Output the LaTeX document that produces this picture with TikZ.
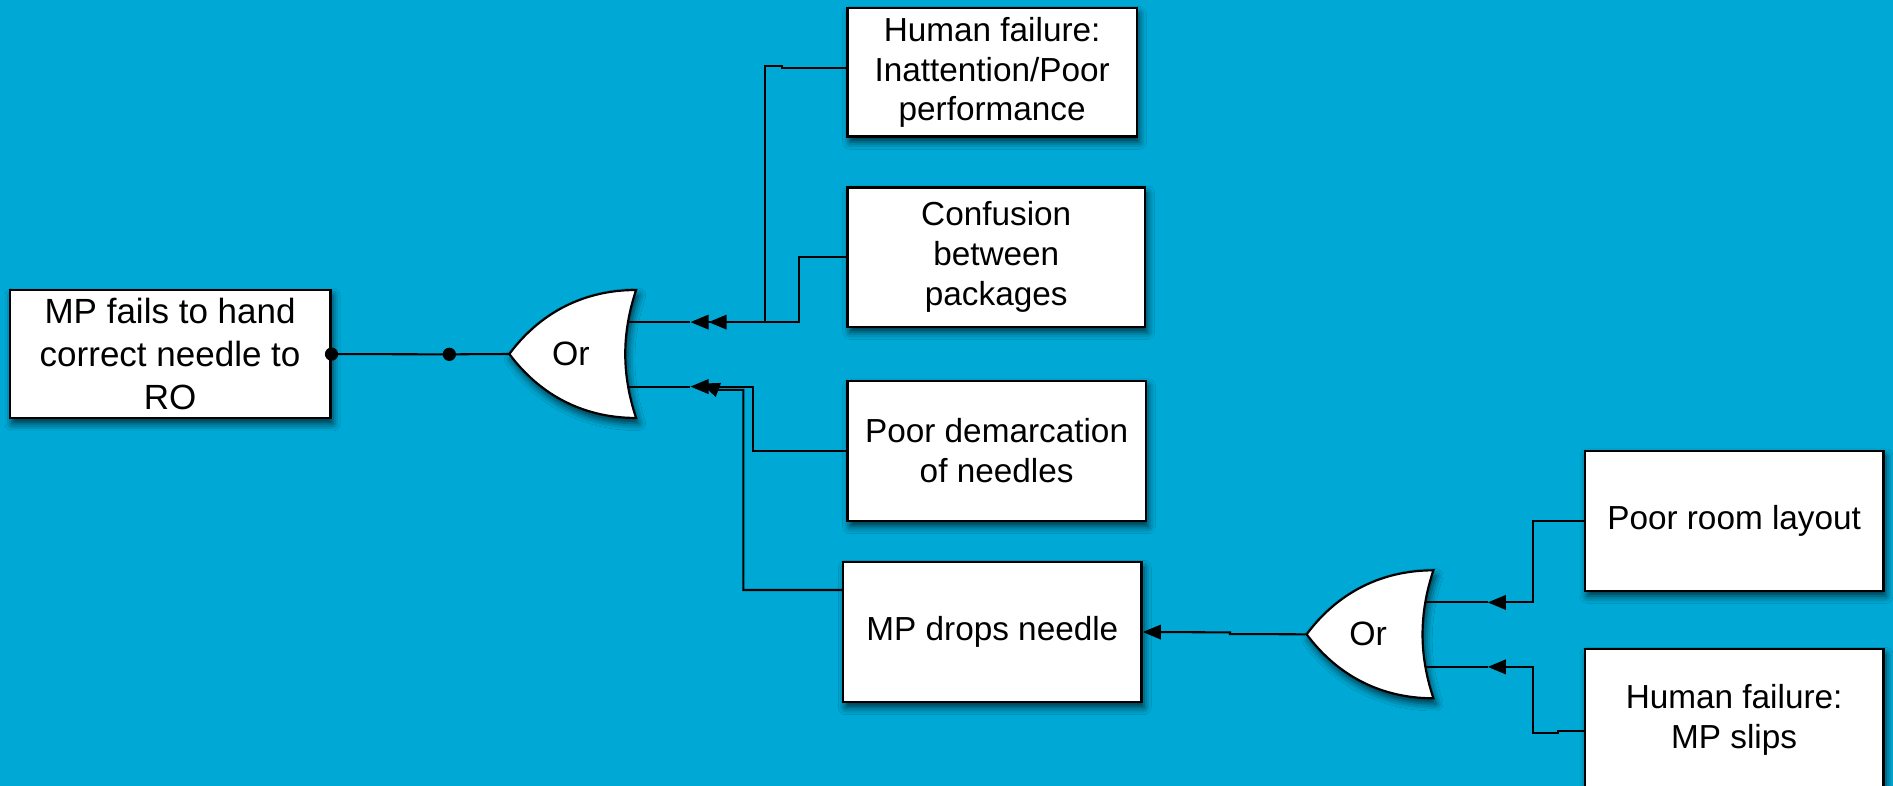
\documentclass[tikz,border=0pt]{standalone}
\usepackage{fontspec}
\setmainfont{Liberation Sans}
\usetikzlibrary{arrows.meta,shadows.blur,calc}
\definecolor{bg}{RGB}{0,169,213}
\begin{document}
\begin{tikzpicture}[x=1pt,y=-1pt,
  shad/.style={blur shadow={shadow xshift=2pt, shadow yshift=-4.5pt, shadow blur radius=6pt, shadow opacity=70}},
  box/.style={draw=black, fill=white, line width=1.9pt, inner sep=0pt, align=center,
    font=\fontsize{27.6}{33}\selectfont, shad},
  conn/.style={line width=1.7pt, draw=black},
  arr/.style={conn, -{Triangle[length=15pt,width=12pt]}},
  dot/.style={circle, fill=black, inner sep=0pt, minimum size=11pt},
  gatepath/.style={fill=white, draw=black, line width=1.8pt, shad},
  orgate/.pic={
    \path[gatepath] (0,0) .. controls (23,-31) and (58,-53) .. (105,-53)
       .. controls (93,-17) and (93,17) .. (105,53)
       .. controls (58,53) and (23,31) .. (0,0) -- cycle;
    \node[font=\fontsize{28}{33}\selectfont, inner sep=0pt] (-lbl) at (51,0) {Or};
    \coordinate (-tip) at (0,0);
    \coordinate (-b1) at (98.6,-26.4);
    \coordinate (-b2) at (98.6,27);
    \coordinate (-i1) at (150,-26.4);
    \coordinate (-i1b) at (165,-26.4);
    \coordinate (-i2) at (150,27);
  }
]
\useasboundingbox (0,0) rectangle (1568,651);
\fill[bg] (0,0) rectangle (1568,651);

% boxes
\node[box, font=\fontsize{29}{35.5}\selectfont, minimum width=265.5pt, minimum height=106.3pt] (A) at (140.9,293.3) {MP fails to hand\\correct needle to\\RO};
\node[box, minimum width=239.6pt, minimum height=106.3pt] (B) at (821.8,60) {Human failure:\\Inattention/Poor\\performance};
\node[box, minimum width=246.4pt, minimum height=115.2pt] (C) at (825.2,213) {Confusion\\between\\packages};
\node[box, minimum width=247pt, minimum height=116.2pt] (D) at (825.5,373.4) {Poor demarcation\\of needles};
\node[box, minimum width=247.2pt, minimum height=115.9pt] (E) at (822,523.5) {MP drops needle};
\node[box, minimum width=247.2pt, minimum height=116pt] (F) at (1436.4,431.3) {Poor room layout};
\node[box, minimum width=247.2pt, minimum height=116.6pt] (G) at (1436.4,596) {Human failure:\\MP slips};

% gates
\path (421.9,293.2) pic (g1) {orgate};
\path (1082.3,525.4) pic (g2) {orgate};

% connectors
\coordinate (j1) at (372.2,293.5);
\coordinate (g1e) at (581,317.7);
\draw[conn] (A.east) -- (j1) -- (g1-tip);
\node[dot] (dA) at (A.east) {};
\node[dot] (dj) at (j1) {};

\draw[conn] (g1-b1) -- (g1-i1);
\draw[conn] (g1-b2) -- (g1-i2);
\draw[arr] ($(B.west)+(0,-3.4)$) -- (647.4,56.6) -- (647.4,54.7) -- (633.6,54.7) |- (g1-i1);
\draw[arr] (C.west) -- (662,213) |- (g1-i1b);
\draw[arr] (D.west) -- (624,373.4) |- (g1-i2);
\draw[arr] ($(E.west)+(0,-34.8)$) -- (615.7,488.7) -- (615.7,323) -- (595,323) -- (g1e);

\draw[conn] (g2-b1) -- (g2-i1);
\draw[conn] (g2-b2) -- (g2-i2);
\draw[arr] (g2-tip) -- (1018.8,525.2) -- (1018.8,523.8) -- (E.east);
\draw[arr] (F.west) -- (1269.8,431.3) |- (g2-i1);
\draw[arr] ($(G.west)+(0,9.5)$) -- (1290.6,605.5) -- (1290.6,606.9) -- (1269.8,606.9) |- (g2-i2);
\end{tikzpicture}
\end{document}
